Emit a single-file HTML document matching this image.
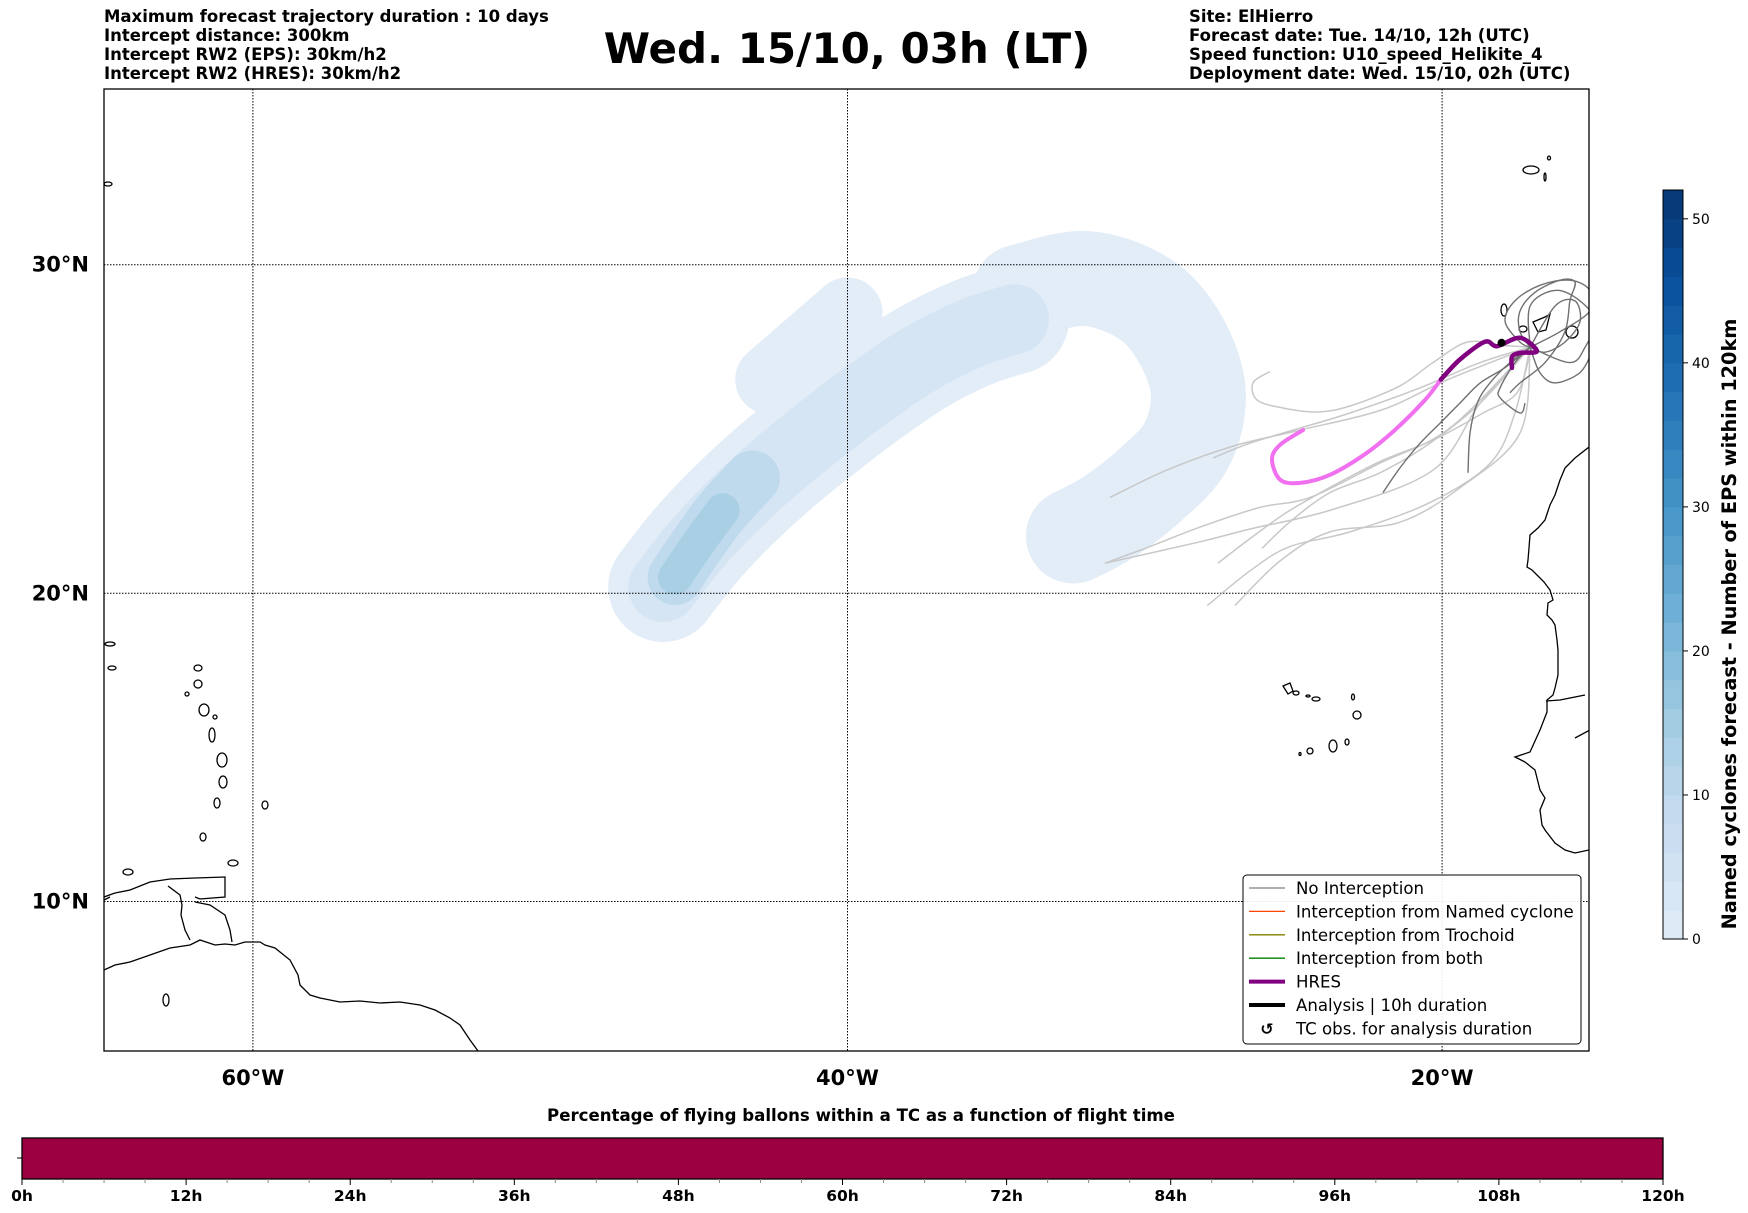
<!DOCTYPE html>
<html><head><meta charset="utf-8"><style>
body{margin:0;background:#fff;}
svg{display:block;font-family:"DejaVu Sans","Liberation Sans",sans-serif;}
</style></head><body>
<svg id="c" width="1748" height="1213" viewBox="0 0 1748 1213">
<g font-size="16.5" font-weight="bold">
<text x="104" y="22">Maximum forecast trajectory duration : 10 days</text>
<text x="104" y="41">Intercept distance: 300km</text>
<text x="104" y="60">Intercept RW2 (EPS):  30km/h2</text>
<text x="104" y="79">Intercept RW2 (HRES): 30km/h2</text>
</g>
<text x="847" y="63" font-size="42" font-weight="bold" text-anchor="middle">Wed. 15/10, 03h (LT)</text>
<g font-size="16.5" font-weight="bold">
<text x="1189" y="22">Site: ElHierro</text>
<text x="1189" y="41">Forecast date: Tue. 14/10, 12h (UTC)</text>
<text x="1189" y="60">Speed function: U10_speed_Helikite_4</text>
<text x="1189" y="79">Deployment date: Wed. 15/10, 02h (UTC)</text>
</g>
<defs><clipPath id="mapclip"><rect x="104" y="89" width="1485" height="962"/></clipPath></defs>
<g id="map" clip-path="url(#mapclip)">
<g id="density"></g>
<g id="grid"></g>
<g fill="none" stroke="#000" stroke-width="1.3">
<path d="M1595,440 L1589,447 L1575,458 L1565,468 L1560,480 L1555,495 L1550,505 L1545,520 L1538,528 L1530,535 L1529,548 L1528,560 L1527,567 L1532,570 L1540,578 L1544,582 L1550,590 L1553,600 L1548,603 L1547,615 L1552,620 L1555,625 L1557,640 L1558,650 L1558,675 L1555,688 L1553,695 L1547,700 L1547,712 L1540,730 L1530,752 L1515,757 L1525,762 L1535,770 L1538,782 L1540,790 L1545,798 L1540,810 L1542,825 L1545,830 L1555,843 L1565,850 L1575,853 L1589,850"/>
<path d="M1546,701 L1560,700 L1575,697 L1585,695 M1575,738 L1590,730"/>
<path d="M104,970 L115,965 L130,962 L150,955 L170,948 L190,945 L200,940 L215,945 L225,944 L235,945 L245,942 L260,942 L265,945 L275,948 L290,960 L298,975 L300,985 L305,990 L310,995 L320,998 L330,1000 L340,1002 L360,1001 L380,1003 L400,1002 L420,1005 L435,1010 L450,1018 L460,1025 L470,1040 L478,1051"/>
<path d="M104,897 L115,893 L130,890 L150,882 L170,879 L195,878 L225,877 L225,897 L200,899 L195,897 M168,886 L180,895 L182,905 L181,915 L185,930 L190,940 M195,902 L210,905 L225,915 L230,930 L232,942"/>
<path d="M100,902 L110,897"/>
<g>
<ellipse cx="198" cy="668" rx="4" ry="3"/><ellipse cx="198" cy="684" rx="4" ry="4"/><ellipse cx="187" cy="694" rx="2" ry="2"/><ellipse cx="204" cy="710" rx="5" ry="6"/><ellipse cx="215" cy="717" rx="2" ry="2"/><ellipse cx="212" cy="735" rx="3" ry="7"/><ellipse cx="222" cy="760" rx="5" ry="7"/><ellipse cx="223" cy="782" rx="4" ry="6"/><ellipse cx="217" cy="803" rx="3" ry="5"/><ellipse cx="203" cy="837" rx="3" ry="4"/><ellipse cx="265" cy="805" rx="3" ry="4"/><ellipse cx="233" cy="863" rx="5" ry="3"/><ellipse cx="128" cy="872" rx="5" ry="3"/><ellipse cx="110" cy="644" rx="5" ry="2"/><ellipse cx="112" cy="668" rx="4" ry="2"/><ellipse cx="166" cy="1000" rx="3" ry="6"/><ellipse cx="108" cy="184" rx="4" ry="2"/>
</g>
<g>
<ellipse cx="1531" cy="170" rx="8" ry="4"/><ellipse cx="1549" cy="158" rx="1.5" ry="2"/><ellipse cx="1545" cy="177" rx="1" ry="4"/>
<ellipse cx="1504" cy="310" rx="3" ry="6"/><ellipse cx="1523" cy="329" rx="4" ry="3"/><path d="M1533,322 L1545,317 L1550,314 L1546,330 L1538,332 Z"/><ellipse cx="1572" cy="332" rx="6" ry="6"/>
<path d="M1283,686 L1290,683 L1293,691 L1288,694 Z"/><ellipse cx="1296" cy="693" rx="3" ry="2"/><ellipse cx="1308" cy="696" rx="2" ry="1"/><ellipse cx="1316" cy="699" rx="4" ry="2"/><ellipse cx="1353" cy="697" rx="1.5" ry="3"/><ellipse cx="1357" cy="715" rx="4" ry="4"/><ellipse cx="1333" cy="746" rx="4" ry="6"/><ellipse cx="1347" cy="742" rx="2" ry="3"/><ellipse cx="1310" cy="751" rx="3" ry="3"/><ellipse cx="1300" cy="754" rx="1" ry="1.5"/>
</g>
</g>
<g id="tracks"></g>
</g>
<rect x="104" y="89" width="1485" height="962" fill="none" stroke="#000" stroke-width="1.3"/>
<g id="axes"></g>
<g id="legend">
<rect x="1243" y="875" width="338" height="169" rx="4" fill="#fff" fill-opacity="0.9" stroke="#000" stroke-width="1"/>
</g>
<g id="cbar"></g>
<g id="bbar"></g>
</svg>
<script>
// ---- data ----
const lonTicks=[-60,-40,-20];
const lonLabels=["60°W","40°W","20°W"];
const latTicks=[10,20,30];
const latLabels=["10°N","20°N","30°N"];
const densityMainLon=[-46.2,-45.2,-44.0,-42.6,-41.0,-39.4,-37.6,-35.8,-34.4];
const densityMainLat=[20.2,21.4,22.6,23.8,25.0,26.1,27.2,28.0,28.4];
const densityCoreLon=[-45.8,-45.0,-44.2,-43.2];
const densityCoreLat=[20.5,21.6,22.6,23.6];
const densityArcLon=[-34.2,-32.0,-30.0,-28.8,-28.2,-28.6,-29.8,-31.2,-32.4];
const densityArcLat=[29.2,29.6,29.0,27.8,26.2,24.6,23.4,22.4,21.8];
const densityBumpLon=[-40.0,-42.6];
const densityBumpLat=[28.6,26.6];
const hresPinkLon=[-24.68,-25.45,-25.72,-25.45,-24.78,-23.77,-22.60,-21.59,-20.58,-20.04];
const hresPinkLat=[25.07,24.62,24.18,23.55,23.45,23.70,24.33,25.07,25.98,26.60];
const hresPurpleLon=[-20.04,-19.40,-18.56,-18.15,-17.38,-16.81,-17.38,-17.65,-17.65];
const hresPurpleLat=[26.60,27.20,27.73,27.60,27.85,27.45,27.40,27.28,26.95];
const lightTracks=[
 {lon:[-17.04,-18.72,-20.31,-23.67,-26.46,-28.14,-31.34],lat:[27.57,25.89,23.84,22.63,22.02,21.62,20.95]},
 {lon:[-17.04,-19.8,-22.04,-24.78,-27.03,-29.25,-31.17],lat:[27.57,26.6,25.68,25.07,24.58,23.85,23.0]},
 {lon:[-17.04,-18.05,-19.16,-20.31,-21.42,-23.10,-24.21,-25.35,-26.22,-26.36,-25.79],lat:[27.57,27.63,27.72,27.11,26.41,25.8,25.62,25.74,25.98,26.5,26.84]},
 {lon:[-17.04,-17.48,-18.62,-20.31,-21.99,-23.67,-25.22,-26.46,-27.54],lat:[27.42,26.2,25.59,24.76,24.15,23.36,22.54,21.72,20.95]},
 {lon:[-17.04,-18.72,-20.41,-22.09,-23.77,-25.12,-26.06],lat:[27.57,25.89,24.67,23.76,23.15,22.24,21.41]},
 {lon:[-17.04,-17.55,-18.38,-20.41,-23.1,-25.12,-26.46,-27.9],lat:[27.57,25.59,24.06,22.84,21.93,21.47,20.71,19.61]},
 {lon:[-17.04,-17.38,-19.4,-21.42,-23.77,-25.45,-26.97],lat:[27.57,24.98,23.3,22.23,21.93,21.02,19.61]},
 {lon:[-17.04,-19.74,-22.09,-24.44,-26.13,-28.14,-29.83,-31.34],lat:[27.57,25.13,24.06,23.0,22.69,22.08,21.47,20.95]},
 {lon:[-17.04,-18.72,-20.74,-23.1,-24.78,-26.46,-27.7],lat:[27.57,27.11,26.35,25.59,25.13,24.67,24.22]}
];
const darkTracks=[
 {lon:[-17.04,-16.03,-15.03,-15.03,-15.70,-16.71,-17.55,-17.88,-17.38,-17.04],lat:[27.57,28.03,28.64,29.25,29.55,29.40,28.94,28.33,27.72,27.57]},
 {lon:[-17.04,-15.70,-15.19,-14.86,-15.36,-16.20,-17.04,-17.04],lat:[27.57,27.11,27.57,28.33,28.94,29.25,28.79,27.57]},
 {lon:[-17.04,-17.38,-17.38,-16.88,-16.03,-15.53,-15.70,-15.87,-16.54,-17.38,-17.72],lat:[27.57,28.03,28.64,29.19,29.55,29.49,28.94,28.03,27.11,26.50,26.20]},
 {lon:[-17.04,-17.55,-18.05,-18.05,-17.38,-17.21],lat:[27.57,27.11,26.35,26.05,25.59,25.89]},
 {lon:[-17.04,-17.88,-18.72,-19.40,-20.07,-20.74,-21.42,-21.99],lat:[27.57,26.96,26.50,25.89,25.28,24.67,23.91,23.15]},
 {lon:[-17.04,-17.72,-18.39,-18.82,-19.06,-19.13],lat:[27.57,27.11,26.50,25.89,24.98,23.76]},
 {lon:[-17.04,-16.71,-16.20,-15.36,-14.96],lat:[27.57,26.81,26.50,26.81,27.42]},
 {lon:[-17.04,-16.54,-15.87,-15.36,-15.53,-16.20,-17.04],lat:[27.57,27.42,27.72,28.33,28.94,28.79,27.57]}
];
const cbarTicks=[0,10,20,30,40,50];
const cbarMax=52;
const hourTicks=[0,12,24,36,48,60,72,84,96,108,120];
const hourLabels=["0h","12h","24h","36h","48h","60h","72h","84h","96h","108h","120h"];
// ---- scales ----
const NS='http://www.w3.org/2000/svg';
const X=lon=>847.5+(lon+40)*29.73;
const merc=l=>Math.log(Math.tan(Math.PI/4+l*Math.PI/360));
const Y=lat=>593.3-1703*(merc(lat)-merc(20));
function mk(tag,attrs,parent){const e=document.createElementNS(NS,tag);for(const k in attrs)e.setAttribute(k,attrs[k]);parent.appendChild(e);return e;}
function smoothD(lons,lats){const p=lons.map((v,i)=>[X(v),Y(lats[i])]);let d='M'+p[0][0].toFixed(1)+' '+p[0][1].toFixed(1);
for(let i=0;i<p.length-1;i++){const a=p[Math.max(i-1,0)],b=p[i],c=p[i+1],e=p[Math.min(i+2,p.length-1)];
d+=' C'+(b[0]+(c[0]-a[0])/6).toFixed(1)+' '+(b[1]+(c[1]-a[1])/6).toFixed(1)+' '+(c[0]-(e[0]-b[0])/6).toFixed(1)+' '+(c[1]-(e[1]-b[1])/6).toFixed(1)+' '+c[0].toFixed(1)+' '+c[1].toFixed(1);}return d;}
const dens=document.getElementById('density'),grid=document.getElementById('grid'),tracks=document.getElementById('tracks'),axes=document.getElementById('axes');
function blob(lons,lats,w,col,name){const p=mk('path',{d:smoothD(lons,lats),fill:'none',stroke:col,'stroke-width':w,'stroke-linecap':'round','stroke-linejoin':'round'},dens);

}
blob(densityArcLon,densityArcLat,95,'#e3edf8','density-arc');
blob(densityBumpLon,densityBumpLat,70,'#e3edf8','density-bump');
blob(densityMainLon,densityMainLat,110,'#e3edf8','density-main-outer');
blob(densityMainLon,densityMainLat,70,'#d5e5f4','density-main-mid');
blob(densityCoreLon,densityCoreLat,55,'#bfd9ed','density-core');
blob(densityCoreLon.slice(0,3),densityCoreLat.slice(0,3),34,'#a8cfe4','density-core-peak');
lonTicks.forEach(l=>{const g=mk('line',{x1:X(l),x2:X(l),y1:89,y2:1051,stroke:'#000','stroke-width':1,'stroke-dasharray':'1.5 1.5'},grid);

});
latTicks.forEach(l=>{const g=mk('line',{x1:104,x2:1589,y1:Y(l),y2:Y(l),stroke:'#000','stroke-width':1,'stroke-dasharray':'1.5 1.5'},grid);

});
lightTracks.forEach(t=>{const p=mk('path',{d:smoothD(t.lon,t.lat),fill:'none',stroke:'#c8c8c8','stroke-width':1.5},tracks);

});
darkTracks.forEach(t=>{const p=mk('path',{d:smoothD(t.lon,t.lat),fill:'none',stroke:'#707070','stroke-width':1.4},tracks);

});
const hp=mk('path',{d:smoothD(hresPinkLon,hresPinkLat),fill:'none',stroke:'#f070f0','stroke-width':4,'stroke-linecap':'round'},tracks);


const hq=mk('path',{d:smoothD(hresPurpleLon,hresPurpleLat),fill:'none',stroke:'#800080','stroke-width':4.5,'stroke-linecap':'round','stroke-linejoin':'round'},tracks);


const site=mk('circle',{cx:X(-18.0),cy:Y(27.7),r:4,fill:'#000'},tracks);


lonTicks.forEach((l,i)=>{const t=mk('text',{x:X(l),y:1085,'font-size':21,'font-weight':'bold','text-anchor':'middle'},axes);t.textContent=lonLabels[i];

});
latTicks.forEach((l,i)=>{const t=mk('text',{x:89,y:Y(l)+7,'font-size':21,'font-weight':'bold','text-anchor':'end'},axes);t.textContent=latLabels[i];

});
// legend
const leg=document.getElementById('legend');
const items=[["No Interception","#808080",1.3],["Interception from Named cyclone","#ff4500",1.3],["Interception from Trochoid","#808000",1.3],["Interception from both","#008000",1.3],["HRES","#800080",4],["Analysis | 10h duration","#000",4],["TC obs. for analysis duration",null,0]];
items.forEach((it,i)=>{const y=888+i*23.4;
if(it[1]){const l=mk('line',{x1:1249,x2:1285,y1:y,y2:y,stroke:it[1],'stroke-width':it[2]},leg);

}
else{const s=mk('text',{x:1267,y:y+6,'font-size':16,'font-weight':'bold','text-anchor':'middle'},leg);s.textContent='↺';

}
const t=mk('text',{x:1296,y:y+6,'font-size':16.6},leg);t.textContent=it[0];

});
// colorbar
const cg=document.getElementById('cbar');
const cy0=939,cy1=190,cx=1663,cw=20;
const CY=v=>cy0-(v/cbarMax)*(cy0-cy1);
const blues=[[222,235,247],[198,219,239],[158,202,225],[107,174,214],[66,146,198],[33,113,181],[8,81,156],[8,48,107]];
function bcol(f){const p=f*(blues.length-1),i=Math.min(Math.floor(p),blues.length-2),r=p-i;return 'rgb('+blues[i].map((c,k)=>Math.round(c+(blues[i+1][k]-c)*r)).join(',')+')';}
for(let v=0;v<cbarMax;v+=2){const r=mk('rect',{x:cx,y:CY(v+2),width:cw,height:CY(v)-CY(v+2)+0.5,fill:bcol(v/cbarMax)},cg);

}
mk('rect',{x:cx,y:cy1,width:cw,height:cy0-cy1,fill:'none',stroke:'#000','stroke-width':1},cg);
cbarTicks.forEach(v=>{mk('line',{x1:cx+cw,x2:cx+cw+5,y1:CY(v),y2:CY(v),stroke:'#000'},cg);const t=mk('text',{x:cx+cw+9,y:CY(v)+5,'font-size':14},cg);t.textContent=v;

});
const ct=mk('text',{x:0,y:0,'font-size':19.3,'font-weight':'bold','text-anchor':'middle',transform:'translate(1736,624) rotate(-90)'},cg);ct.textContent='Named cyclones forecast - Number of EPS within 120km';


// bottom bar
const bb=document.getElementById('bbar');
const bx0=22,bx1=1663;const BX=h=>bx0+(h/120)*(bx1-bx0);
const bt=mk('text',{x:861,y:1121,'font-size':16.6,'font-weight':'bold','text-anchor':'middle'},bb);bt.textContent='Percentage of flying ballons within a TC as a function of flight time';


const br=mk('rect',{x:bx0,y:1138,width:bx1-bx0,height:41,fill:'#9b0040',stroke:'#000','stroke-width':1.3},bb);


mk('line',{x1:bx0-5,x2:bx0,y1:1158,y2:1158,stroke:'#000'},bb);
for(let h=0;h<=120;h+=3){mk('line',{x1:BX(h),x2:BX(h),y1:1179,y2:h%12?1183:1185,stroke:h%12?'#888':'#000'},bb);}
hourTicks.forEach((h,i)=>{const t=mk('text',{x:BX(h),y:1201,'font-size':15.5,'font-weight':'bold','text-anchor':'middle'},bb);t.textContent=hourLabels[i];

});
</script>
</body></html>
